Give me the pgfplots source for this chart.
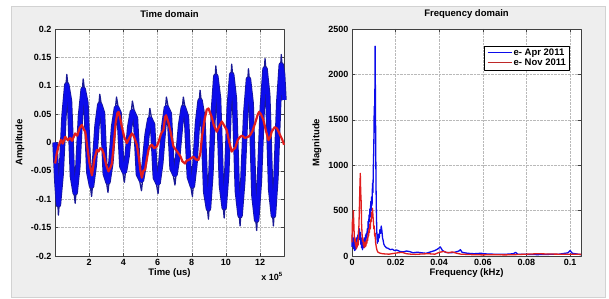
\documentclass[border=0pt]{standalone}
\usepackage{fontspec}
\setmainfont{Liberation Sans}
\usepackage{xcolor}
\usepackage{pgfplots}
\usepackage{pgfplotstable}
\pgfplotsset{compat=1.18}
\definecolor{figbg}{RGB}{238,238,238}
\definecolor{mblue}{RGB}{12,12,235}
\definecolor{mnavy}{RGB}{25,25,150}
\definecolor{mred}{RGB}{225,30,30}
\definecolor{mlegred}{RGB}{190,40,40}
\pgfplotsset{mstyle/.style={
  scale only axis, width=229pt, height=227pt, anchor=south west,
  axis background/.style={fill=white},
  tick align=inside, major tick length=3pt,
  xmajorgrids, ymajorgrids, grid style={densely dotted, gray!55},
  axis line style={black!75}, every tick/.style={black!75},
  tick label style={font=\bfseries\fontsize{9}{10}\selectfont},
  label style={font=\bfseries\fontsize{9.5}{11}\selectfont},
  title style={font=\bfseries\fontsize{9.5}{11}\selectfont, at={(axis description cs:0.5,1.04)}, anchor=center},
  xlabel style={at={(axis description cs:0.5,-0.0735)}, anchor=center},
  ylabel style={at={(axis description cs:-0.153,0.5)}, anchor=center},
  clip=false,
  line join=round
}}
% blue signal, full extent of the noisy band
\pgfplotstableread{
t v
0.00 0.0
0.11 -0.07
0.20 -0.128
0.36 -0.056
0.53 0.048
0.69 0.12
0.85 0.073
1.02 -0.06
1.18 -0.107
1.34 -0.042
1.49 0.047
1.65 0.112
1.81 0.07
1.98 -0.053
2.14 -0.095
2.30 -0.04
2.46 0.03
2.62 0.085
2.78 0.052
2.94 -0.055
3.10 -0.088
3.27 -0.036
3.43 0.028
3.60 0.08
3.75 0.052
3.91 -0.042
4.06 -0.07
4.22 -0.024
4.37 0.027
4.53 0.073
4.71 0.043
4.88 -0.056
5.06 -0.085
5.22 -0.039
5.39 0.014
5.55 0.06
5.71 0.032
5.87 -0.062
6.03 -0.09
6.19 -0.037
6.36 0.027
6.52 0.08
6.69 0.051
6.85 -0.046
7.02 -0.075
7.18 -0.026
7.35 0.031
7.51 0.08
7.69 0.046
7.86 -0.061
8.04 -0.095
8.19 -0.038
8.34 0.035
8.49 0.092
8.65 0.045
8.82 -0.088
8.98 -0.135
9.12 -0.057
9.27 0.057
9.41 0.135
9.57 0.078
9.74 -0.076
9.90 -0.133
10.05 -0.055
10.19 0.06
10.34 0.138
10.50 0.077
10.67 -0.086
10.83 -0.147
10.99 -0.068
11.16 0.051
11.32 0.13
11.48 0.069
11.64 -0.094
11.80 -0.155
11.96 -0.069
12.13 0.062
12.29 0.148
12.45 0.084
12.62 -0.083
12.78 -0.147
12.93 -0.062
13.09 0.07
13.24 0.155
13.32 0.12
13.40 0.075
}\bluefull
% blue signal, dense core of the band
\pgfplotstableread{
t v
0.00 0.0
0.11 -0.07
0.20 -0.110
0.36 -0.056
0.53 0.048
0.69 0.102
0.85 0.073
1.02 -0.06
1.18 -0.089
1.34 -0.042
1.49 0.047
1.65 0.094
1.81 0.07
1.98 -0.053
2.14 -0.077
2.30 -0.04
2.46 0.03
2.62 0.067
2.78 0.052
2.94 -0.055
3.10 -0.070
3.27 -0.036
3.43 0.028
3.60 0.062
3.75 0.052
3.91 -0.042
4.06 -0.052
4.22 -0.024
4.37 0.027
4.53 0.055
4.71 0.043
4.88 -0.056
5.06 -0.067
5.22 -0.039
5.39 0.014
5.55 0.042
5.71 0.032
5.87 -0.062
6.03 -0.072
6.19 -0.037
6.36 0.027
6.52 0.062
6.69 0.051
6.85 -0.046
7.02 -0.057
7.18 -0.026
7.35 0.031
7.51 0.062
7.69 0.046
7.86 -0.061
8.04 -0.077
8.19 -0.038
8.34 0.035
8.49 0.074
8.65 0.045
8.82 -0.088
8.98 -0.117
9.12 -0.057
9.27 0.057
9.41 0.117
9.57 0.078
9.74 -0.076
9.90 -0.115
10.05 -0.055
10.19 0.06
10.34 0.120
10.50 0.077
10.67 -0.086
10.83 -0.129
10.99 -0.068
11.16 0.051
11.32 0.112
11.48 0.069
11.64 -0.094
11.80 -0.137
11.96 -0.069
12.13 0.062
12.29 0.130
12.45 0.084
12.62 -0.083
12.78 -0.129
12.93 -0.062
13.09 0.07
13.24 0.137
13.32 0.12
13.40 0.075
}\bluecore
\begin{document}
\begin{tikzpicture}[x=1pt,y=1pt]
\useasboundingbox (0,0) rectangle (609,299);
\fill[white] (0,0) rectangle (609,299);
\fill[figbg] (11,2) rectangle (605,293);
\draw[gray!35] (11,2) rectangle (605,293);

\begin{axis}[mstyle, at={(55pt,43pt)},
  xmin=0, xmax=13.4, ymin=-0.2, ymax=0.2,
  xtick={2,4,6,8,10,12}, xticklabels={2,4,6,8,10,12},
  ytick={-0.2,-0.15,-0.1,-0.05,0,0.05,0.1,0.15,0.2},
  yticklabels={-0.2,-0.15,-0.1,-0.05,0,0.05,0.1,0.15,0.2},
  title={Time domain}, xlabel={Time (us)}, ylabel={Amplitude}]
\addplot[draw=mnavy, line width=1.3pt] table {\bluefull};
\addplot[draw=mnavy, line width=5.4pt] table {\bluecore};
\addplot[draw=mblue, line width=4pt] table {\bluecore};
\addplot[draw=mred, line width=2.2pt] table {
0.01 -0.037
0.1 -0.02
0.2 -0.007
0.35 0.005
0.45 -0.002
0.6 0.01
0.75 0.004
0.89 0.008
1.0 0.003
1.18 0.016
1.3 0.012
1.45 0.026
1.57 0.031
1.65 0.025
1.77 0.019
1.9 -0.01
2.02 -0.037
2.16 -0.058
2.3 -0.03
2.45 -0.013
2.55 -0.016
2.64 -0.01
2.75 -0.012
2.84 -0.019
3.0 -0.04
3.13 -0.051
3.23 -0.045
3.33 -0.037
3.45 0.0
3.55 0.035
3.65 0.052
3.72 0.054
3.8 0.045
3.91 0.028
4.05 0.01
4.2 -0.001
4.35 0.008
4.5 0.016
4.6 0.012
4.79 -0.004
4.9 -0.025
5.0 -0.05
5.08 -0.062
5.17 -0.05
5.27 -0.048
5.37 -0.03
5.47 -0.013
5.57 -0.006
5.67 -0.004
5.8 -0.01
5.96 -0.007
6.1 0.005
6.2 0.015
6.35 0.022
6.44 0.045
6.5 0.048
6.64 0.035
6.75 0.02
6.93 -0.007
7.05 -0.012
7.22 -0.019
7.35 -0.025
7.45 -0.033
7.61 -0.037
7.7 -0.032
7.81 -0.031
7.95 -0.028
8.1 -0.025
8.25 -0.03
8.39 -0.031
8.5 -0.02
8.6 0.01
8.75 0.04
8.88 0.058
8.98 0.06
9.08 0.052
9.17 0.045
9.3 0.03
9.47 0.019
9.6 0.028
9.76 0.037
9.9 0.03
10.05 0.022
10.2 0.0
10.34 -0.016
10.45 -0.012
10.54 -0.01
10.7 0.005
10.83 0.01
10.95 0.012
11.12 0.008
11.3 0.01
11.42 0.013
11.55 0.02
11.71 0.034
11.85 0.048
11.94 0.054
12.05 0.05
12.19 0.04
12.35 0.02
12.49 0.004
12.6 0.01
12.68 0.019
12.85 0.027
12.98 0.025
13.1 0.018
13.17 0.013
13.3 0.005
13.4 -0.004
};
\node[font=\bfseries\fontsize{9}{10}\selectfont] at (rel axis cs:0.948,-0.092) {x 10\textsuperscript{5}};
\end{axis}

\begin{axis}[mstyle, at={(352pt,43pt)},
  xmin=0, xmax=0.105, ymin=0, ymax=2500,
  xtick={0,0.02,0.04,0.06,0.08,0.1}, xticklabels={0,0.02,0.04,0.06,0.08,0.1},
  ytick={0,500,1000,1500,2000,2500}, yticklabels={0,500,1000,1500,2000,2500},
  title={Frequency domain}, xlabel={Frequency (kHz)}, ylabel={Magnitude},
  legend style={at={(0.948,0.925)}, anchor=north east, font=\bfseries\fontsize{9.5}{11}\selectfont, inner xsep=1pt, inner ysep=1pt, row sep=-2pt},
  legend cell align=left]
\addlegendimage{empty legend}
\addlegendentry{\textcolor{mblue}{\rule[0.32em]{24pt}{0.9pt}}\hspace{2pt}e- Apr 2011}
\addlegendimage{empty legend}
\addlegendentry{\textcolor{mlegred}{\rule[0.32em]{24pt}{0.9pt}}\hspace{2pt}e- Nov 2011}
\addplot[draw=mblue, line width=1.3pt, forget plot] table {
0.0000 100
0.0002 250
0.0004 120
0.0006 200
0.0008 80
0.0010 180
0.0012 60
0.0014 150
0.0016 70
0.0018 160
0.0020 90
0.0022 200
0.0024 110
0.0026 230
0.0028 140
0.0030 280
0.0032 180
0.0034 300
0.0036 200
0.0038 260
0.0040 130
0.0042 200
0.0044 90
0.0046 160
0.0048 70
0.0050 150
0.0052 90
0.0054 180
0.0056 110
0.0058 200
0.0060 140
0.0062 230
0.0064 170
0.0066 250
0.0068 200
0.0070 300
0.0072 240
0.0074 380
0.0076 300
0.0078 450
0.0080 380
0.0082 520
0.0084 430
0.0086 600
0.0088 500
0.0090 650
0.0092 560
0.0094 800
0.0096 700
0.0098 1000
0.0100 1200
0.0102 1650
0.0104 1400
0.0106 2310
0.0107 1900
0.0108 1500
0.0110 800
0.0112 450
0.0114 250
0.0116 140
0.0118 200
0.0120 160
0.0122 240
0.0125 200
0.0128 290
0.0131 250
0.0134 330
0.0137 280
0.0140 200
0.0143 170
0.0146 130
0.0150 110
0.0158 90
0.0165 85
0.0175 70
0.0185 75
0.0195 60
0.0205 66
0.0220 50
0.0235 45
0.0250 55
0.0265 48
0.0280 35
0.0300 42
0.0320 35
0.0340 30
0.0360 45
0.0380 60
0.0395 80
0.0405 100
0.0415 60
0.0430 40
0.0450 35
0.0470 40
0.0490 55
0.0497 70
0.0505 40
0.0530 30
0.0560 25
0.0590 30
0.0620 22
0.0650 20
0.0680 18
0.0710 20
0.0740 25
0.0750 40
0.0760 20
0.0800 18
0.0850 15
0.0900 18
0.0950 20
0.0990 35
0.1000 60
0.1010 30
0.1050 15
};
\addplot[draw=mred, line width=1.3pt, forget plot] table {
0.0000 150
0.0002 400
0.0004 280
0.0006 500
0.0008 380
0.0010 250
0.0012 160
0.0014 200
0.0016 110
0.0018 150
0.0020 80
0.0022 150
0.0024 100
0.0026 180
0.0028 120
0.0030 250
0.0032 350
0.0034 550
0.0036 750
0.0038 910
0.0040 700
0.0042 600
0.0044 350
0.0046 250
0.0048 160
0.0050 200
0.0052 120
0.0054 160
0.0056 90
0.0058 140
0.0060 100
0.0062 150
0.0064 110
0.0066 170
0.0068 140
0.0070 200
0.0072 170
0.0074 250
0.0076 220
0.0078 300
0.0080 260
0.0082 350
0.0084 300
0.0086 400
0.0088 380
0.0090 480
0.0092 420
0.0094 525
0.0096 450
0.0098 380
0.0100 300
0.0102 330
0.0104 220
0.0106 250
0.0108 150
0.0110 120
0.0112 90
0.0114 70
0.0116 55
0.0120 40
0.0130 30
0.0140 25
0.0155 22
0.0170 20
0.0190 28
0.0210 35
0.0230 40
0.0250 25
0.0270 20
0.0290 18
0.0320 22
0.0350 25
0.0380 20
0.0400 40
0.0420 50
0.0440 35
0.0460 45
0.0480 30
0.0500 20
0.0550 15
0.0600 12
0.0650 15
0.0700 12
0.0750 15
0.0800 20
0.0850 25
0.0900 22
0.0950 20
0.1000 20
0.1050 18
};
\end{axis}
\end{tikzpicture}
\end{document}
